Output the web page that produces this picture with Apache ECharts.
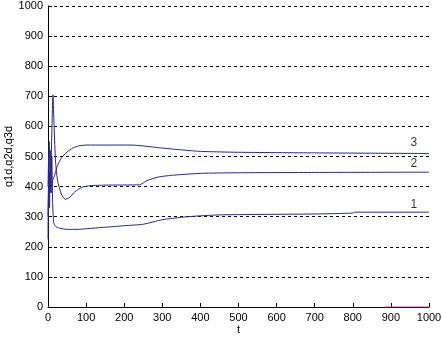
<!DOCTYPE html>
<html>
<head>
<meta charset="utf-8">
<script src="https://cdn.jsdelivr.net/npm/echarts@6/dist/echarts.min.js"></script>
<style>
html, body { margin: 0; padding: 0; background: #fff; }
#container { width: 442px; height: 339px; }
</style>
</head>
<body>
<div id="container"></div>
<script>
// q1d (curve 1)
let t1 = [0, 2, 4, 6, 8, 10, 12, 15, 20, 30, 50, 80, 100, 150, 200, 250, 300, 350, 400, 450, 500, 700, 800, 805, 1000];
let q1 = [225, 480, 330, 520, 400, 500, 350, 280, 268, 262, 258, 258, 260, 265, 270, 275, 290, 298, 303, 306, 307, 309, 312, 315, 315];
// q2d (curve 2)
let t2 = [0, 3, 6, 9, 13, 16, 20, 25, 35, 45, 55, 70, 90, 110, 150, 240, 260, 290, 330, 400, 500, 700, 1000];
let q2 = [300, 450, 380, 520, 705, 600, 480, 420, 375, 358, 362, 382, 398, 403, 405, 406, 420, 432, 438, 444, 446, 447, 448];
// q3d (curve 3)
let t3 = [0, 3, 6, 9, 12, 18, 25, 35, 50, 65, 80, 100, 220, 250, 300, 350, 400, 500, 700, 1000];
let q3 = [400, 550, 420, 380, 420, 440, 470, 495, 515, 528, 535, 538, 538, 535, 528, 522, 517, 514, 512, 510];
// small magenta trace on the t axis
let t4 = [884, 1000];
let q4 = [0, 0];
// curve tags
let tagNames = ['1', '2', '3'];
let tagT = [960, 960, 960];
let tagV = [340, 476, 547];

let xTicks = [0, 1000, 100];
let yTicks = [0, 1000, 100];

function pairs(ts, vs) {
    return ts.map(function (t, i) { return [t, vs[i]]; });
}

let dom = document.getElementById("container");
let myChart = echarts.init(dom);
let lineColor = '#26268f';
let font = 'Liberation Sans, Arial, sans-serif';
let plain = function (v) { return String(v); };

let option = {
    animation: false,
    backgroundColor: '#fff',
    grid: { left: 48, right: 13, top: 6, bottom: 32, outerBoundsMode: 'none', containLabel: false },
    xAxis: {
        type: 'value',
        min: xTicks[0], max: xTicks[1], interval: xTicks[2],
        name: 't',
        nameLocation: 'middle',
        nameGap: 17,
        nameMoveOverlap: false,
        nameTextStyle: { color: '#000', fontSize: 11, fontFamily: font },
        axisLine: { lineStyle: { color: '#000', width: 1 } },
        axisTick: { inside: true, length: 4, lineStyle: { color: '#000' } },
        axisLabel: { color: '#000', fontSize: 11, fontFamily: font, margin: 5, formatter: plain },
        splitLine: { show: false }
    },
    yAxis: {
        type: 'value',
        min: yTicks[0], max: yTicks[1], interval: yTicks[2],
        name: 'q1d,q2d,q3d',
        nameLocation: 'middle',
        nameGap: 34,
        nameMoveOverlap: false,
        nameTextStyle: { color: '#000', fontSize: 11, fontFamily: font },
        axisLine: { show: true, lineStyle: { color: '#000', width: 1 } },
        axisTick: { inside: true, length: 4, lineStyle: { color: '#000' } },
        axisLabel: { color: '#000', fontSize: 11, fontFamily: font, margin: 5, formatter: plain },
        splitLine: { show: true, lineStyle: { color: '#000', type: [3, 3], width: 1 } }
    },
    series: [{
        type: 'line', data: pairs(t1, q1), showSymbol: false, smooth: 0.2,
        lineStyle: { color: lineColor, width: 1 }
    }, {
        type: 'line', data: pairs(t2, q2), showSymbol: false, smooth: 0.2,
        lineStyle: { color: lineColor, width: 1 }
    }, {
        type: 'line', data: pairs(t3, q3), showSymbol: false, smooth: 0.2,
        lineStyle: { color: lineColor, width: 1 }
    }, {
        type: 'line', data: pairs(t4, q4), showSymbol: false,
        lineStyle: { color: '#d040c0', width: 1 }
    }, {
        type: 'scatter',
        symbolSize: 0,
        data: tagNames.map(function (n, i) { return { value: [tagT[i], tagV[i]], name: n }; }),
        label: {
            show: true, position: 'inside', formatter: '{b}',
            color: '#000', fontSize: 12, fontFamily: font
        }
    }]
};
myChart.setOption(option);
</script>
</body>
</html>
